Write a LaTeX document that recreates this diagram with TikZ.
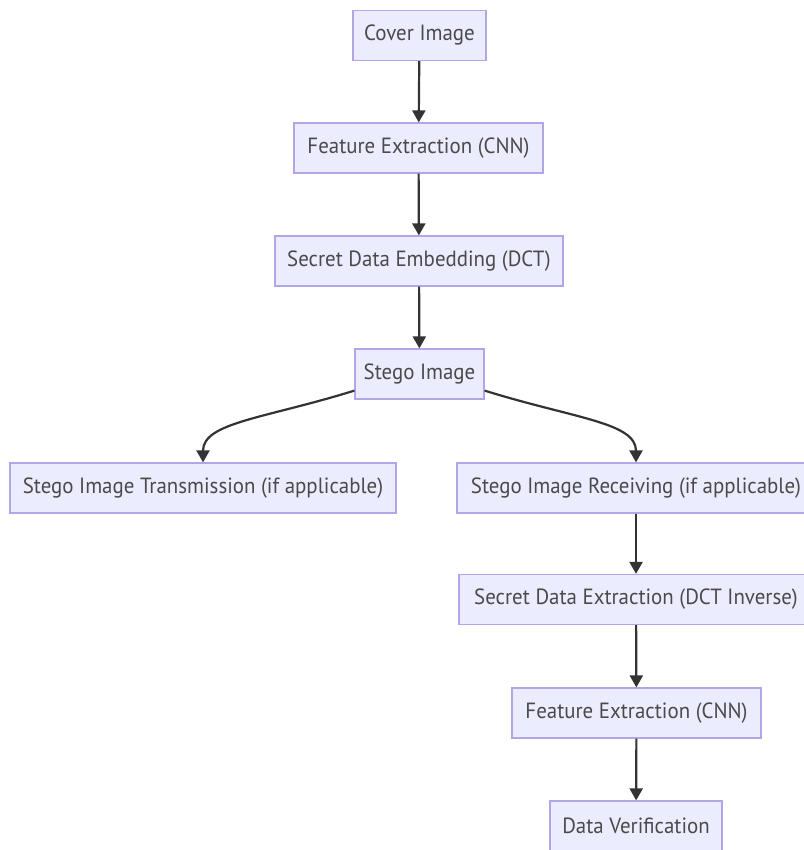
\documentclass[tikz,border=0pt]{standalone}
\usepackage{fontspec}
\setmainfont{PT Sans}
\usetikzlibrary{arrows.meta,calc}
\definecolor{boxfill}{HTML}{ECECFF}
\definecolor{boxline}{HTML}{B4A6E6}
\definecolor{txt}{HTML}{4A4A4A}
\definecolor{edge}{HTML}{333333}
% labels are set slightly condensed
\newcommand\lbl[1]{\scalebox{0.95}[1]{#1}}
\begin{document}
\begin{tikzpicture}[x=1pt,y=-1pt,
  stepbox/.style={draw=boxline,fill=boxfill,line width=1.2pt,inner sep=0pt,
    minimum height=50pt,text=txt,font=\fontsize{22}{24}\selectfont},
  arr/.style={draw=edge,line width=2.2pt,-{Triangle[width=13pt,length=12pt]}}]
\useasboundingbox[fill=white] (0,0) rectangle (803,850);

% sender chain
\node[stepbox,minimum width=133pt] (cover) at (419.5,35.5) {\lbl{Cover Image}};
\node[stepbox,minimum width=249pt] (feat) at (418.5,148) {\lbl{Feature Extraction (CNN)}};
\node[stepbox,minimum width=288pt] (embed) at (419,261) {\lbl{Secret Data Embedding (DCT)}};
\node[stepbox,minimum width=129pt] (stego) at (419.5,374) {\lbl{Stego Image}};

% branches
\node[stepbox,minimum width=386pt] (trans) at (203,488) {\lbl{Stego Image Transmission (if applicable)}};
\node[stepbox,minimum width=358pt] (recv) at (636,488) {\lbl{Stego Image Receiving (if applicable)}};

% receiver chain
\node[stepbox,minimum width=354pt] (extract) at (636,599.5) {\lbl{Secret Data Extraction (DCT Inverse)}};
\node[stepbox,minimum width=249pt] (feat2) at (636.5,713) {\lbl{Feature Extraction (CNN)}};
\node[stepbox,minimum width=172pt] (verify) at (636,826) {\lbl{Data Verification}};

\draw[arr] (cover) -- (feat);
\draw[arr] (feat) -- (embed);
\draw[arr] (embed) -- (stego);
\draw[arr] ($(stego.south west)+(0,-9)$) .. controls +(-90,28) and +(0,-40) .. (trans.north);
\draw[arr] ($(stego.south east)+(0,-9)$) .. controls +(90,28) and +(0,-40) .. (recv.north);
\draw[arr] (recv) -- (extract);
\draw[arr] (extract) -- (feat2);
\draw[arr] (feat2) -- (verify);
\end{tikzpicture}
\end{document}
